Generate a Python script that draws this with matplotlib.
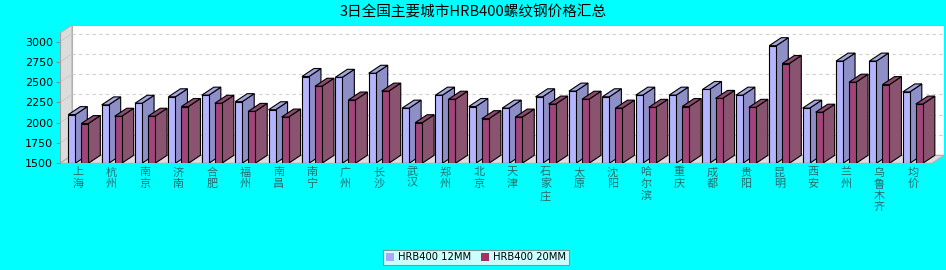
import numpy as np
import matplotlib.pyplot as plt
from matplotlib.patches import Patch

plt.rcParams['font.family'] = ['Noto Sans CJK SC', 'DejaVu Sans']

title = '3日全国主要城市HRB400螺纹钢价格汇总'
cities = ['上海', '杭州', '南京', '济南', '合肥', '福州', '南昌', '南宁', '广州',
          '长沙', '武汉', '郑州', '北京', '天津', '石家庄', '太原', '沈阳', '哈尔滨',
          '重庆', '成都', '贵阳', '昆明', '西安', '兰州', '乌鲁木齐', '均价']
price_12mm = [2100, 2220, 2240, 2320, 2340, 2260, 2160, 2570, 2560, 2610, 2180, 2340, 2200,
              2180, 2320, 2390, 2320, 2340, 2340, 2410, 2340, 2950, 2180, 2760, 2760, 2380]
price_20mm = [1990, 2080, 2080, 2200, 2240, 2140, 2070, 2450, 2280, 2390, 2000, 2290, 2050,
              2070, 2230, 2290, 2180, 2190, 2200, 2300, 2190, 2730, 2130, 2500, 2470, 2230]
series_names = ['HRB400 12MM', 'HRB400 20MM']
yticks = [1500, 1750, 2000, 2250, 2500, 2750, 3000]

# colours: front, top, side
c12 = ('#b4b4ff', '#a4a4e0', '#8f8fc8')
c20 = ('#a0447a', '#8e4a6e', '#8a5470')
bg = '#00ffff'


def bar3d(ax, left, right, v, base, dx, dy, cols):
    # side, top, then front face
    ax.fill([right, right, right + dx, right + dx], [base, v, v + dy, base + dy],
            facecolor=cols[2], edgecolor='black', linewidth=0.8, zorder=3)
    ax.fill([left, right, right + dx, left + dx], [v, v, v + dy, v + dy],
            facecolor=cols[1], edgecolor='black', linewidth=0.8, zorder=3)
    ax.bar(left, v - base, bottom=base, width=right - left, align='edge',
           color=cols[0], edgecolor='black', linewidth=0.8, zorder=4)


def main():
    fig = plt.figure(figsize=(9.46, 2.70), dpi=100, facecolor=bg)
    ax = fig.add_axes([60 / 946, (270 - 163.3) / 270, 884 / 946, 138.3 / 270])
    ax.set_facecolor('none')

    x0, x1 = -0.548, 25.935
    y0, y1 = 1500, 3205
    dx, dy = 0.36, 98.6
    ax.set_xlim(x0, x1)
    ax.set_ylim(y0, y1)

    # back wall, left wall, floor
    ax.fill([x0 + dx, x1, x1, x0 + dx], [y0 + dy, y0 + dy, y1, y1],
            facecolor='white', edgecolor='#b0b0b0', linewidth=0.8, zorder=0)
    ax.fill([x0, x0, x0 + dx, x0 + dx], [y0, y1 - dy, y1, y0 + dy],
            facecolor='#dcdcdc', edgecolor='#b0b0b0', linewidth=0.8, zorder=0)
    ax.fill([x0, x1 - dx, x1, x0 + dx], [y0, y0, y0 + dy, y0 + dy],
            facecolor='#dcdcdc', edgecolor='#b0b0b0', linewidth=0.8, zorder=1)
    for v in yticks[1:]:
        ax.plot([x0 + dx, x1], [v + dy, v + dy], color='#d0d0d0', linestyle=(0, (3, 3)),
                linewidth=0.8, zorder=1)
        ax.plot([x0, x0 + dx], [v, v + dy], color='#c8c8c8', linewidth=0.6, zorder=1)

    x = np.arange(len(cities))
    w = 0.21
    for i in x:
        bar3d(ax, i - 0.30, i - 0.30 + w, price_12mm[i], y0, dx, dy, c12)
        bar3d(ax, i + 0.09, i + 0.09 + w, price_20mm[i], y0, dx, dy, c20)

    for s in ax.spines.values():
        s.set_visible(False)
    ax.plot([x0, x0], [y0, y1 - dy], color='#a0a0a0', linewidth=0.8, zorder=2, clip_on=False)
    ax.set_yticks(yticks)
    ax.set_yticklabels([str(v) for v in yticks], fontsize=8, family='DejaVu Sans')
    ax.tick_params(axis='y', length=3, width=0.6, color='#808080', pad=2)
    ax.set_xticks(x)
    ax.set_xticklabels(['\n'.join(c) for c in cities], fontsize=8, color='#2a6a6a',
                       linespacing=1.15, va='top')
    ax.tick_params(axis='x', length=0, pad=3)

    fig.text(0.5, 1 - 12 / 270, title, ha='center', va='center', fontsize=10.5, color='black')

    handles = [Patch(facecolor='#a8a8ff', edgecolor='none'),
               Patch(facecolor='#a8305f', edgecolor='none')]
    leg = fig.legend(handles, series_names, loc='center', bbox_to_anchor=(476 / 946, 1 - 257.5 / 270),
                     ncol=2, frameon=True, fancybox=False, handlelength=0.8,
                     handleheight=0.8, handletextpad=0.4, columnspacing=1.0,
                     borderpad=0.25, prop={'family': 'DejaVu Sans', 'size': 7.2})
    leg.get_frame().set_edgecolor('#808080')
    leg.get_frame().set_linewidth(0.8)

    fig.savefig('out.png', dpi=100, facecolor=bg)
    plt.close()


if __name__ == "__main__":
    main()
